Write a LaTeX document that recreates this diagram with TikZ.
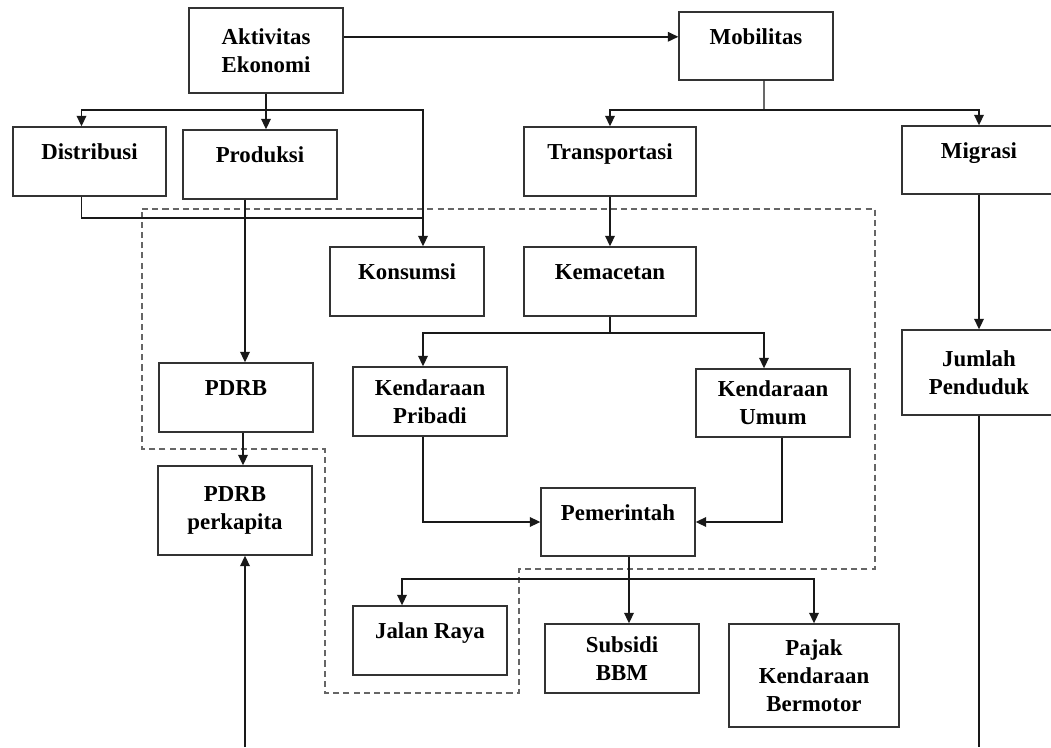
\documentclass[tikz,border=0pt]{standalone}
\usepackage{fontspec}
\setmainfont{Liberation Serif}
\usetikzlibrary{arrows.meta}
\begin{document}
\begin{tikzpicture}[x=0.02cm, y=-0.02cm,
  box/.style={draw=black!80, line width=0.8pt, align=center, inner sep=1pt,
    minimum width=3.08cm, minimum height=1.38cm,
    font=\fontsize{13}{16}\selectfont\bfseries},
  one/.style={text height=0.35cm, text depth=0.42cm},
  wire/.style={draw=black!90, line width=0.8pt},
  arr/.style={wire, -{Triangle[length=6pt,width=5.5pt]}},
  grp/.style={draw=black!60, line width=0.7pt, dash pattern=on 3.5pt off 2.3pt}]
  \useasboundingbox (0,0) rectangle (1051,747);
  \draw[grp] (142,209) -- (875,209) -- (875,569) -- (519,569) -- (519,693)
    -- (325,693) -- (325,449) -- (142,449) -- cycle;

  \node[box, minimum height=1.7cm] (akt) at (266,50.5) {Aktivitas\\Ekonomi};
  \node[box, one, minimum height=1.36cm] (mob) at (756,46) {Mobilitas};
  \node[box, one, minimum width=3.06cm] (dist) at (89.5,161.5) {Distribusi};
  \node[box, one] (prod) at (260,164.5) {Produksi};
  \node[box, one, minimum width=3.44cm] (trans) at (610,161.5) {Transportasi};
  \node[box, one, minimum height=1.36cm] (migr) at (979,160) {Migrasi};
  \node[box, one] (kons) at (407,281.5) {Konsumsi};
  \node[box, one, minimum width=3.44cm] (kemac) at (610,281.5) {Kemacetan};
  \node[box, one] (pdrb) at (236,397.5) {PDRB};
  \node[box] (kpri) at (430,401.5) {Kendaraan\\Pribadi};
  \node[box, minimum height=1.36cm] (kumum) at (773,403) {Kendaraan\\Umum};
  \node[box, minimum height=1.7cm] (jml) at (979,372.5) {Jumlah\\Penduduk};
  \node[box, minimum height=1.78cm] (pdrbk) at (235,510.5) {PDRB\\perkapita};
  \node[box, one, minimum height=1.36cm] (pem) at (618,522) {Pemerintah};
  \node[box, one] (jalan) at (430,640.5) {Jalan Raya};
  \node[box] (subs) at (622,658.5) {Subsidi\\BBM};
  \node[box, minimum width=3.4cm, minimum height=2.06cm] (pajak) at (814,675.5) {Pajak\\Kendaraan\\Bermotor};

  \coordinate (e1) at (266,110);
  \coordinate (e2) at (423,218);
  \coordinate (e3) at (764,110);
  \coordinate (e4) at (610,333);
  \coordinate (e5) at (629,579);
  \coordinate (src) at (245,747);
  \coordinate (sink) at (979,747);

  \draw[arr] (akt.10) -- (akt.10 -| mob.west);
  \draw[wire] (akt.south) -- (e1);
  \draw[arr] (e1) -| ([xshift=-0.16cm]dist.north);
  \draw[arr] (e1) -- (e1 |- prod.north);
  \draw[arr] (e1) -| ([xshift=0.32cm]kons.north);
  \draw[wire] ([xshift=-0.16cm]dist.south) |- (e2);
  \draw[arr] ([xshift=-0.3cm]prod.south) -- ([xshift=-0.3cm]prod.south |- pdrb.north);
  \draw[arr] ([xshift=0.14cm]pdrb.south) -- ([xshift=0.14cm]pdrb.south |- pdrbk.north);
  \draw[arr] (src) -- (src |- pdrbk.south);

  \draw[wire] ([xshift=0.16cm]mob.south) -- (e3);
  \draw[arr] (e3) -| (trans.north);
  \draw[arr] (e3) -| (migr.north);
  \draw[arr] (trans.south) -- (kemac.north);
  \draw[arr] (migr.south) -- (jml.north);
  \draw[wire] (jml.south) -- (sink);

  \draw[wire] (kemac.south) -- (e4);
  \draw[arr] (e4) -| ([xshift=-0.14cm]kpri.north);
  \draw[arr] (e4) -| ([xshift=-0.18cm]kumum.north);
  \draw[arr] ([xshift=-0.14cm]kpri.south) |- (pem.west);
  \draw[arr] ([xshift=0.18cm]kumum.south) |- (pem.east);

  \draw[arr] ([xshift=0.22cm]pem.south) -- ([xshift=0.22cm]pem.south |- subs.north);
  \draw[arr] (e5) -| ([xshift=-0.56cm]jalan.north);
  \draw[arr] (e5) -| (pajak.north);
\end{tikzpicture}
\end{document}
